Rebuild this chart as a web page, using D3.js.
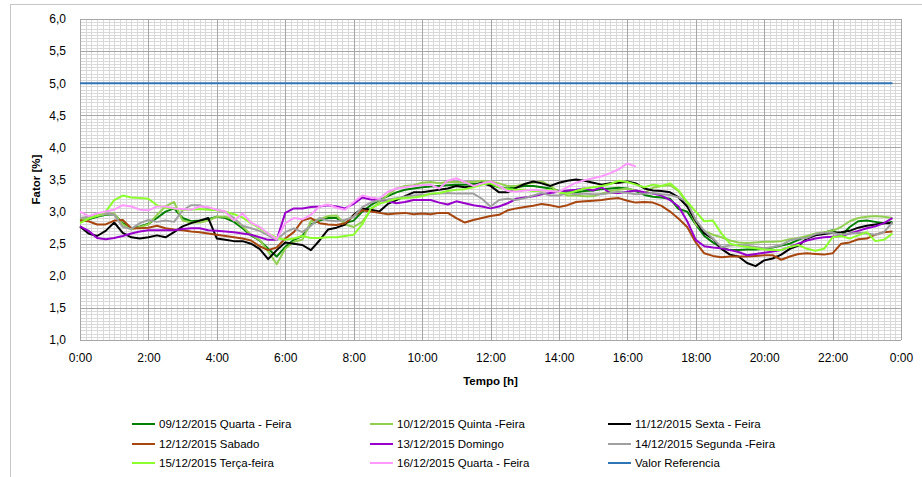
<!DOCTYPE html>
<html>
<head>
<meta charset="utf-8">
<script src="https://cdn.jsdelivr.net/npm/d3@7/dist/d3.min.js"></script>
<style>
  body { margin: 0; background: #fff; }
  svg { display: block; }
  text { font-family: "Liberation Sans", Arial, sans-serif; fill: #000; }
</style>
</head>
<body>
<svg id="chart" width="922" height="477"></svg>
<script>
// Load factor per 15-minute interval, one array per day (hours 0:00 .. 23:45)
const stepHours = 0.25;

const day0912 = [
  2.86, 2.88, 2.92, 2.95,  2.96, 2.82, 2.74, 2.77,  2.81, 2.90, 3.00, 3.05,  2.90, 2.85, 2.86, 2.88,
  2.92, 2.90, 2.84, 2.74,  2.63, 2.55, 2.42, 2.30,  2.45, 2.56, 2.62, 2.80,  2.86, 2.90, 2.90, 2.82,
  2.86, 3.00, 3.10, 3.18,  3.24, 3.30, 3.34, 3.36,  3.38, 3.39, 3.40, 3.41,  3.42, 3.42, 3.43, 3.44,
  3.42, 3.38, 3.36, 3.38,  3.40, 3.40, 3.38, 3.36,  3.32, 3.30, 3.30, 3.32,  3.33, 3.35, 3.36, 3.37,
  3.36, 3.32, 3.26, 3.23,  3.22, 3.20, 3.04, 3.00,  2.80, 2.62, 2.52, 2.44,  2.40, 2.40, 2.41, 2.41,
  2.42, 2.44, 2.47, 2.50,  2.56, 2.61, 2.64, 2.67,  2.71, 2.62, 2.76, 2.85,  2.86, 2.84, 2.82, 2.84
];
const day1012 = [
  2.86, 2.90, 2.93, 2.96,  2.97, 2.80, 2.72, 2.76,  2.80, 2.95, 3.08, 3.15,  2.86, 2.83, 2.83, 2.86,
  2.92, 2.92, 2.88, 2.77,  2.64, 2.56, 2.38, 2.18,  2.42, 2.53, 2.56, 2.85,  2.88, 2.93, 2.94, 2.80,
  2.76, 2.84, 3.02, 3.15,  3.26, 3.36, 3.40, 3.41,  3.45, 3.46, 3.44, 3.46,  3.46, 3.46, 3.46, 3.48,
  3.47, 3.44, 3.40, 3.40,  3.43, 3.45, 3.47, 3.40,  3.30, 3.25, 3.25, 3.24,  3.24, 3.28, 3.32, 3.34,
  3.36, 3.33, 3.29, 3.37,  3.40, 3.41, 3.32, 3.13,  2.80, 2.70, 2.64, 2.60,  2.55, 2.52, 2.51, 2.52,
  2.53, 2.53, 2.54, 2.57,  2.59, 2.62, 2.66, 2.68,  2.70, 2.76, 2.85, 2.90,  2.92, 2.93, 2.92, 2.90
];
const day1112 = [
  2.77, 2.66, 2.62, 2.70,  2.83, 2.67, 2.60, 2.58,  2.60, 2.63, 2.60, 2.68,  2.77, 2.82, 2.86, 2.90,
  2.58, 2.56, 2.54, 2.54,  2.50, 2.42, 2.26, 2.40,  2.52, 2.50, 2.48, 2.40,  2.55, 2.72, 2.75, 2.80,
  2.95, 3.05, 3.03, 3.00,  3.12, 3.18, 3.24, 3.30,  3.30, 3.32, 3.34, 3.36,  3.40, 3.38, 3.40, 3.45,
  3.40, 3.30, 3.30, 3.37,  3.43, 3.47, 3.44, 3.40,  3.45, 3.48, 3.50, 3.48,  3.45, 3.42, 3.44, 3.45,
  3.47, 3.44, 3.36, 3.33,  3.32, 3.30, 3.22, 3.08,  2.85, 2.66, 2.58, 2.42,  2.33, 2.30, 2.20, 2.15,
  2.24, 2.27, 2.33, 2.42,  2.47, 2.58, 2.63, 2.65,  2.67, 2.68, 2.70, 2.75,  2.78, 2.80, 2.82, 2.82
];
const day1212 = [
  2.86, 2.85, 2.80, 2.80,  2.86, 2.87, 2.74, 2.74,  2.75, 2.78, 2.74, 2.72,  2.71, 2.69, 2.68, 2.66,
  2.64, 2.62, 2.60, 2.58,  2.55, 2.46, 2.40, 2.44,  2.58, 2.68, 2.86, 2.90,  2.82, 2.80, 2.79, 2.82,
  2.93, 3.02, 3.00, 2.98,  2.96, 2.97, 2.98, 2.96,  2.97, 2.96, 2.98, 2.98,  2.90, 2.83, 2.87, 2.90,
  2.93, 2.95, 3.02, 3.05,  3.07, 3.09, 3.12, 3.10,  3.07, 3.10, 3.15, 3.16,  3.17, 3.18, 3.20, 3.21,
  3.17, 3.14, 3.15, 3.14,  3.09, 3.00, 2.89, 2.76,  2.52, 2.35, 2.31, 2.29,  2.30, 2.30, 2.30, 2.31,
  2.32, 2.32, 2.25, 2.30,  2.34, 2.35, 2.34, 2.33,  2.35, 2.50, 2.52, 2.57,  2.58, 2.64, 2.68, 2.69
];
const day1312 = [
  2.77, 2.70, 2.59, 2.57,  2.59, 2.62, 2.66, 2.69,  2.71, 2.71, 2.71, 2.71,  2.73, 2.74, 2.74, 2.71,
  2.70, 2.69, 2.68, 2.66,  2.64, 2.60, 2.56, 2.56,  2.98, 3.05, 3.05, 3.07,  3.08, 3.10, 3.08, 3.05,
  3.12, 3.22, 3.19, 3.18,  3.16, 3.13, 3.15, 3.18,  3.18, 3.18, 3.14, 3.11,  3.16, 3.13, 3.10, 3.08,
  3.05, 3.08, 3.13, 3.20,  3.22, 3.24, 3.27, 3.29,  3.31, 3.33, 3.34, 3.36,  3.33, 3.38, 3.29, 3.29,
  3.31, 3.33, 3.30, 3.28,  3.25, 3.18, 3.08, 2.85,  2.56, 2.46, 2.44, 2.43,  2.40, 2.37, 2.32, 2.34,
  2.36, 2.38, 2.40, 2.45,  2.50, 2.55, 2.58, 2.60,  2.61, 2.62, 2.66, 2.70,  2.74, 2.77, 2.82, 2.90
];
const day1412 = [
  2.90, 2.92, 2.95, 2.97,  2.95, 2.76, 2.73, 2.82,  2.87, 2.84, 2.86, 2.84,  3.02, 3.10, 3.10, 3.04,
  3.03, 2.99, 2.90, 2.78,  2.74, 2.70, 2.63, 2.56,  2.68, 2.74, 2.68, 2.78,  2.90, 2.86, 2.85, 2.87,
  2.92, 3.07, 3.14, 3.18,  3.19, 3.21, 3.23, 3.25,  3.26, 3.27, 3.28, 3.29,  3.28, 3.28, 3.28, 3.20,
  3.08, 3.18, 3.20, 3.18,  3.21, 3.25, 3.29, 3.25,  3.25, 3.29, 3.27, 3.28,  3.27, 3.27, 3.29, 3.31,
  3.29, 3.27, 3.28, 3.29,  3.27, 3.26, 3.22, 3.15,  2.87, 2.70, 2.58, 2.45,  2.47, 2.48, 2.47, 2.45,
  2.43, 2.45, 2.48, 2.55,  2.58, 2.59, 2.65, 2.67,  2.67, 2.64, 2.66, 2.67,  2.66, 2.64, 2.68, 2.83
];
const day1512 = [
  2.82, 2.89, 2.94, 3.00,  3.18, 3.25, 3.22, 3.21,  3.20, 3.10, 3.06, 3.05,  3.03, 3.03, 3.04, 3.03,
  3.02, 3.00, 2.96, 2.91,  2.82, 2.74, 2.66, 2.59,  2.56, 2.58, 2.62, 2.59,  2.59, 2.60, 2.60, 2.62,
  2.64, 2.80, 3.05, 3.12,  3.16, 3.20, 3.21, 3.22,  3.24, 3.28, 3.29, 3.32,  3.34, 3.35, 3.38, 3.42,
  3.44, 3.38, 3.35, 3.34,  3.34, 3.32, 3.32, 3.34,  3.30, 3.28, 3.32, 3.36,  3.38, 3.40, 3.43, 3.48,
  3.46, 3.42, 3.38, 3.42,  3.40, 3.44, 3.33, 3.15,  3.00, 2.85, 2.86, 2.66,  2.50, 2.47, 2.45, 2.43,
  2.41, 2.40, 2.40, 2.45,  2.48, 2.42, 2.39, 2.42,  2.60, 2.62, 2.58, 2.63,  2.68, 2.54, 2.56, 2.66
];
const day1612 = [
  3.00, 2.93, 2.97, 3.00,  3.03, 3.10, 3.08, 3.03,  3.02, 3.08, 3.08, 3.05,  3.04, 3.03, 3.08, 3.07,
  3.03, 3.00, 2.86, 2.97,  2.83, 2.76, 2.66, 2.57,  2.82, 2.90, 2.88, 2.95,  3.08, 3.11, 3.06, 3.03,
  3.15, 3.25, 3.22, 3.20,  3.31, 3.36, 3.38, 3.40,  3.41, 3.42, 3.36, 3.48,  3.52, 3.46, 3.40, 3.44,
  3.47, 3.40, 3.32, 3.31,  3.33, 3.34, 3.33, 3.32,  3.31, 3.38, 3.45, 3.49,  3.52, 3.55, 3.60, 3.66,
  3.75, 3.70
];

const seriesLabels = [
  "09/12/2015 Quarta - Feira", "10/12/2015 Quinta -Feira", "11/12/2015 Sexta - Feira",
  "12/12/2015 Sabado", "13/12/2015 Domingo", "14/12/2015 Segunda -Feira",
  "15/12/2015 Terça-feira", "16/12/2015 Quarta - Feira"
];
const seriesValues = [day0912, day1012, day1112, day1212, day1312, day1412, day1512, day1612];
const seriesColors = ["#008000", "#92d050", "#000000", "#a8460f", "#9900cc", "#a0a0a0", "#8cff2e", "#ff99ff"];

const referenceLabel = "Valor Referencia";
const referenceValue = 5.0;
const referenceColor = "#2e75b6";

const xTickHours = [0, 2, 4, 6, 8, 10, 12, 14, 16, 18, 20, 22, 24];
const xTickLabels = ["0:00", "2:00", "4:00", "6:00", "8:00", "10:00", "12:00", "14:00", "16:00", "18:00", "20:00", "22:00", "0:00"];
const yTickValues = [1.0, 1.5, 2.0, 2.5, 3.0, 3.5, 4.0, 4.5, 5.0, 5.5, 6.0];

const svg = d3.select("#chart");
const W = 922, H = 477;
const plot = { left: 80, right: 901, top: 19, bottom: 340 };

const x = d3.scaleLinear().domain([0, 24]).range([plot.left, plot.right]);
const y = d3.scaleLinear().domain([1, 6]).range([plot.bottom, plot.top]);

// outer chart frame
svg.append("rect")
  .attr("x", 10.5).attr("y", 4.5).attr("width", W).attr("height", H)
  .attr("fill", "#fff").attr("stroke", "#c6c6c6").attr("stroke-width", 1);

const g = svg.append("g");

// minor grid: every 10 minutes and every 0.05
const minorX = d3.range(0, 24.0001, 1 / 6);
const minorY = d3.range(1, 6.0001, 0.05);
g.append("g").selectAll("line").data(minorX).join("line")
  .attr("x1", d => Math.round(x(d)) + 0.5).attr("x2", d => Math.round(x(d)) + 0.5)
  .attr("y1", plot.top).attr("y2", plot.bottom)
  .attr("stroke", "#d9d9d9").attr("stroke-width", 1);
g.append("g").selectAll("line").data(minorY).join("line")
  .attr("y1", d => Math.round(y(d)) + 0.5).attr("y2", d => Math.round(y(d)) + 0.5)
  .attr("x1", plot.left).attr("x2", plot.right)
  .attr("stroke", "#d9d9d9").attr("stroke-width", 1);

// major grid: every 2 hours and every 0.5
g.append("g").selectAll("line").data(xTickHours).join("line")
  .attr("x1", d => Math.round(x(d)) + 0.5).attr("x2", d => Math.round(x(d)) + 0.5)
  .attr("y1", plot.top).attr("y2", plot.bottom)
  .attr("stroke", "#a6a6a6").attr("stroke-width", 1);
g.append("g").selectAll("line").data(yTickValues).join("line")
  .attr("y1", d => Math.round(y(d)) + 0.5).attr("y2", d => Math.round(y(d)) + 0.5)
  .attr("x1", plot.left).attr("x2", plot.right)
  .attr("stroke", "#a6a6a6").attr("stroke-width", 1);

// axes (labels only, ticks hidden)
const fmtY = d => d.toFixed(1).replace(".", ",");
const yAxis = d3.axisLeft(y).tickValues(yTickValues).tickFormat(fmtY).tickSize(0).tickPadding(14);
svg.append("g").attr("transform", `translate(${plot.left},0)`).call(yAxis)
  .call(s => s.select(".domain").remove())
  .selectAll("text").style("font-size", "12px").style("font-family", "'Liberation Sans', Arial, sans-serif");

const xAxis = d3.axisBottom(x).tickValues(xTickHours).tickFormat((d, i) => xTickLabels[i]).tickSize(0).tickPadding(13);
svg.append("g").attr("transform", `translate(0,${plot.bottom})`).call(xAxis)
  .call(s => s.select(".domain").remove())
  .selectAll("text").style("font-size", "12px").style("font-family", "'Liberation Sans', Arial, sans-serif");

// series lines
const line = d3.line()
  .x((d, i) => x(i * stepHours))
  .y(d => y(d));

seriesValues.forEach((vals, k) => {
  svg.append("path")
    .datum(vals)
    .attr("d", line)
    .attr("fill", "none")
    .attr("stroke", seriesColors[k])
    .attr("stroke-width", 2)
    .attr("stroke-linejoin", "round");
});

// reference level
const refPoints = d3.range(day0912.length).map(() => referenceValue);
svg.append("path")
  .datum(refPoints)
  .attr("d", line)
  .attr("fill", "none")
  .attr("stroke", referenceColor)
  .attr("stroke-width", 2);

// axis titles
svg.append("text")
  .attr("x", (plot.left + plot.right) / 2).attr("y", 385)
  .attr("text-anchor", "middle")
  .style("font-size", "11.5px").style("font-weight", "bold")
  .text("Tempo [h]");
svg.append("text")
  .attr("transform", `translate(40,${(plot.top + plot.bottom) / 2}) rotate(-90)`)
  .attr("text-anchor", "middle")
  .style("font-size", "11.5px").style("font-weight", "bold")
  .text("Fator [%]");

// legend: three columns, three rows
const legendItems = seriesLabels.map((l, i) => ({ label: l, color: seriesColors[i] }))
  .concat([{ label: referenceLabel, color: referenceColor }]);
const colX = [132, 370, 608];
const rowY = [424, 444, 463];
const legend = svg.append("g");
legendItems.forEach((item, i) => {
  const cx = colX[i % 3], cy = rowY[Math.floor(i / 3)];
  legend.append("line")
    .attr("x1", cx).attr("x2", cx + 23)
    .attr("y1", cy).attr("y2", cy)
    .attr("stroke", item.color).attr("stroke-width", 2);
  legend.append("text")
    .attr("x", cx + 27).attr("y", cy + 4)
    .style("font-size", "11.5px")
    .text(item.label);
});
</script>
</body>
</html>
